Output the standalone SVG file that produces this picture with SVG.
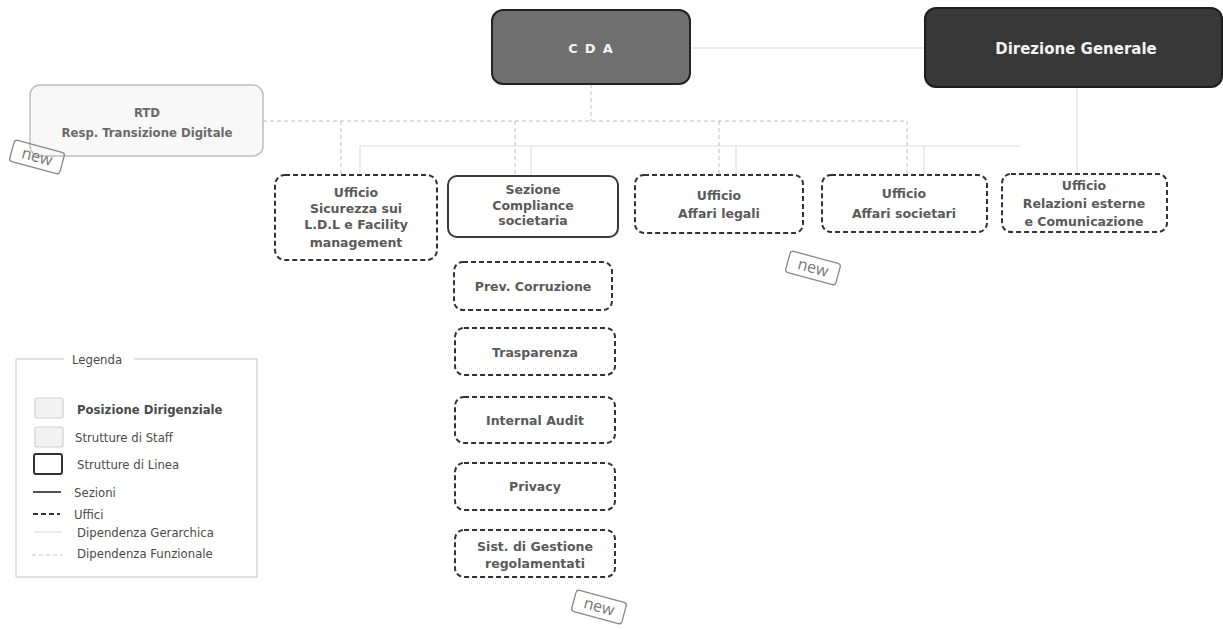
<svg xmlns="http://www.w3.org/2000/svg" width="1223" height="630" viewBox="0 0 1223 630">
  <defs>
    <style>
      .t { font-family: "DejaVu Sans", sans-serif; font-weight: bold; font-size: 12.5px; fill: #5a5a5a; text-anchor: middle; }
      .rt { font-family: "DejaVu Sans Condensed", "DejaVu Sans", sans-serif; font-weight: bold; font-size: 13px; fill: #6a6a6a; text-anchor: middle; }
      .lg { font-family: "DejaVu Sans Condensed", "DejaVu Sans", sans-serif; font-size: 13px; fill: #4a4a4a; }
      .uff { fill: #ffffff; stroke: #333; stroke-width: 2; stroke-dasharray: 5 3; }
      .sez { fill: #ffffff; stroke: #3a3540; stroke-width: 2; }
      .gerarchica { stroke: #dadada; stroke-width: 1; fill: none; }
      .funzionale { stroke: #bdbdbd; stroke-width: 1; stroke-dasharray: 4 3; fill: none; }
      .stamp rect { fill: none; stroke: #888; stroke-width: 1.3; }
      .stamp text { font-family: "Open Sans", sans-serif; font-size: 16px; fill: #777; text-anchor: middle; }
    </style>
  </defs>

  <rect width="1223" height="630" fill="#ffffff"/>

  <!-- connectors -->
  <g id="connectors">
    <!-- hierarchical (solid light) -->
    <line class="gerarchica" x1="690" y1="48" x2="925" y2="48"/>
    <line class="gerarchica" x1="360" y1="146" x2="1020" y2="146"/>
    <line class="gerarchica" x1="360" y1="146" x2="360" y2="175"/>
    <line class="gerarchica" x1="531" y1="146" x2="531" y2="176"/>
    <line class="gerarchica" x1="736" y1="146" x2="736" y2="175"/>
    <line class="gerarchica" x1="924" y1="146" x2="924" y2="175"/>
    <line class="gerarchica" x1="1077" y1="87" x2="1077" y2="174"/>
    <!-- functional (dashed light) -->
    <line class="funzionale" x1="591" y1="84" x2="591" y2="121"/>
    <line class="funzionale" x1="263" y1="121" x2="907" y2="121"/>
    <line class="funzionale" x1="341" y1="121" x2="341" y2="175"/>
    <line class="funzionale" x1="515" y1="121" x2="515" y2="176"/>
    <line class="funzionale" x1="719" y1="121" x2="719" y2="175"/>
    <line class="funzionale" x1="907" y1="121" x2="907" y2="175"/>
  </g>

  <!-- top level -->
  <g id="cda">
    <rect x="492" y="10" width="198" height="74" rx="11" fill="#6f6f6f" stroke="#222" stroke-width="2"/>
    <text x="594" y="53" font-family="DejaVu Sans, sans-serif" font-weight="bold" font-size="13" fill="#f4f4f4" text-anchor="middle" letter-spacing="7">CDA</text>
  </g>
  <g id="direzione-generale">
    <rect x="925" y="8" width="297" height="79" rx="11" fill="#383838" stroke="#1e1e1e" stroke-width="2"/>
    <text x="1076" y="54" font-family="DejaVu Sans, sans-serif" font-weight="bold" font-size="15" fill="#f2f2f2" text-anchor="middle">Direzione  Generale</text>
  </g>
  <g id="rtd">
    <rect x="30" y="85" width="233" height="71" rx="10" fill="#f8f8f8" stroke="#bdbdbd" stroke-width="1.5"/>
    <text class="rt" x="147" y="117">RTD</text>
    <text class="rt" x="147" y="137">Resp. Transizione  Digitale</text>
  </g>

  <!-- second level -->
  <g id="ufficio-sicurezza">
    <rect class="uff" x="275" y="175" width="162" height="85" rx="10"/>
    <text class="t" x="356" y="197">Ufficio</text>
    <text class="t" x="356" y="213">Sicurezza sui</text>
    <text class="t" x="356" y="229">L.D.L e Facility</text>
    <text class="t" x="356" y="247">management</text>
  </g>
  <g id="sezione-compliance">
    <rect class="sez" x="448" y="176" width="170" height="61" rx="9"/>
    <text class="t" x="533" y="194">Sezione</text>
    <text class="t" x="533" y="210">Compliance</text>
    <text class="t" x="533" y="225">societaria</text>
  </g>
  <g id="ufficio-affari-legali">
    <rect class="uff" x="635" y="175" width="168" height="58" rx="9"/>
    <text class="t" x="719" y="200">Ufficio</text>
    <text class="t" x="719" y="218">Affari legali</text>
  </g>
  <g id="ufficio-affari-societari">
    <rect class="uff" x="822" y="175" width="165" height="57" rx="9"/>
    <text class="t" x="904" y="198">Ufficio</text>
    <text class="t" x="904" y="218">Affari societari</text>
  </g>
  <g id="ufficio-relazioni">
    <rect class="uff" x="1002" y="174" width="165" height="58" rx="9"/>
    <text class="t" x="1084" y="190">Ufficio</text>
    <text class="t" x="1084" y="208">Relazioni esterne</text>
    <text class="t" x="1084" y="226">e Comunicazione</text>
  </g>

  <!-- offices under Sezione Compliance -->
  <g id="prev-corruzione">
    <rect class="uff" x="454" y="262" width="158" height="48" rx="9"/>
    <text class="t" x="533" y="291">Prev. Corruzione</text>
  </g>
  <g id="trasparenza">
    <rect class="uff" x="455" y="328" width="160" height="47" rx="9"/>
    <text class="t" x="535" y="357">Trasparenza</text>
  </g>
  <g id="internal-audit">
    <rect class="uff" x="455" y="397" width="160" height="46" rx="9"/>
    <text class="t" x="535" y="425">Internal Audit</text>
  </g>
  <g id="privacy">
    <rect class="uff" x="455" y="463" width="160" height="47" rx="9"/>
    <text class="t" x="535" y="491">Privacy</text>
  </g>
  <g id="sist-gestione">
    <rect class="uff" x="455" y="530" width="160" height="47" rx="9"/>
    <text class="t" x="535" y="551">Sist. di Gestione</text>
    <text class="t" x="535" y="568">regolamentati</text>
  </g>

  <!-- "new" stamps -->
  <g class="stamp" transform="translate(37 157) rotate(15)">
    <rect x="-26" y="-11" width="52" height="22" rx="3"/>
    <text x="0" y="5">new</text>
  </g>
  <g class="stamp" transform="translate(813 268) rotate(15)">
    <rect x="-26" y="-11" width="52" height="22" rx="3"/>
    <text x="0" y="5">new</text>
  </g>
  <g class="stamp" transform="translate(599 607) rotate(15)">
    <rect x="-26" y="-11" width="52" height="22" rx="3"/>
    <text x="0" y="5">new</text>
  </g>

  <!-- legend -->
  <g id="legenda">
    <path d="M64 359 H16 V577 H257 V359 H134" fill="none" stroke="#c4c4c4" stroke-width="1"/>
    <text class="lg" x="72" y="364">Legenda</text>
    <rect x="35" y="398" width="28" height="20" rx="2" fill="#f2f2f2" stroke="#cfcfcf" stroke-width="1.2"/>
    <text class="lg" x="77" y="414" font-weight="bold" fill="#333">Posizione Dirigenziale</text>
    <rect x="35" y="427" width="28" height="20" rx="2" fill="#f2f2f2" stroke="#cfcfcf" stroke-width="1.2"/>
    <text class="lg" x="75" y="442">Strutture di Staff</text>
    <rect x="34" y="454" width="28" height="20" rx="2" fill="#ffffff" stroke="#333" stroke-width="2"/>
    <text class="lg" x="77" y="469">Strutture di Linea</text>
    <line x1="33" y1="492" x2="61" y2="492" stroke="#4a3b3b" stroke-width="1.8"/>
    <text class="lg" x="74" y="497">Sezioni</text>
    <line x1="33" y1="514" x2="60" y2="514" stroke="#333" stroke-width="2" stroke-dasharray="5 3"/>
    <text class="lg" x="74" y="519">Uffici</text>
    <line x1="34" y1="532" x2="62" y2="532" stroke="#d9d9d9" stroke-width="1"/>
    <text class="lg" x="77" y="537" fill="#333">Dipendenza Gerarchica</text>
    <line x1="32" y1="555" x2="62" y2="555" stroke="#c4c4c4" stroke-width="1" stroke-dasharray="4 3"/>
    <text class="lg" x="77" y="558" fill="#333">Dipendenza Funzionale</text>
  </g>
</svg>
